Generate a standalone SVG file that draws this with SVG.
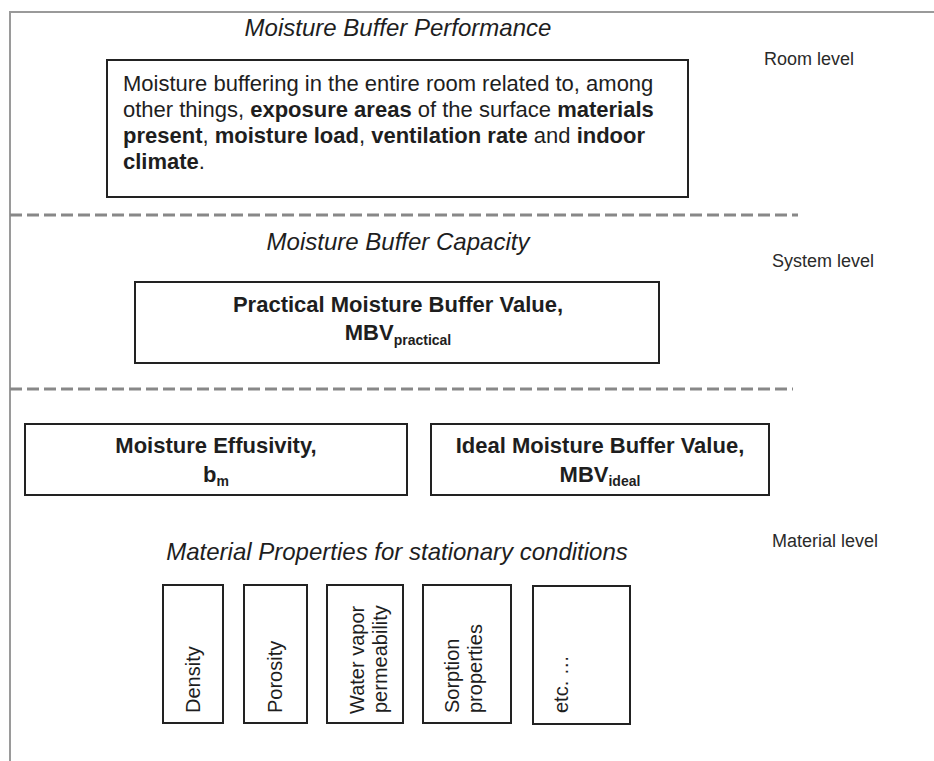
<svg xmlns="http://www.w3.org/2000/svg" width="934" height="761" viewBox="0 0 934 761">
<style>
text { font-family: "Liberation Sans", Arial, sans-serif; fill: #1e1e1e; }
.title { font-size: 24px; font-style: italic; text-anchor: middle; }
.level { font-size: 18px; fill: #2a2a2a; }
.body { font-size: 22px; }
.b { font-weight: bold; }
.node { font-size: 22px; font-weight: bold; text-anchor: middle; }
.sub { font-size: 14px; }
.prop { font-size: 20px; }
.box { fill: #ffffff; stroke: #222222; stroke-width: 2; }
.frame { stroke: #9a9a9a; stroke-width: 2; fill: none; }
.dash { stroke: #888888; stroke-width: 3; stroke-dasharray: 12 5; fill: none; }
</style>
<rect x="0" y="0" width="934" height="761" fill="#ffffff"/>
<g id="frame">
  <path class="frame" d="M10,761 V12 H934"/>
</g>
<g id="separators">
  <line class="dash" x1="10" y1="215" x2="798" y2="215"/>
  <line class="dash" x1="10" y1="389" x2="793" y2="389"/>
</g>
<g id="labels">
  <text class="title" x="398" y="36">Moisture Buffer Performance</text>
  <text class="level" x="764" y="65">Room level</text>
  <text class="title" x="398" y="250">Moisture Buffer Capacity</text>
  <text class="level" x="772" y="267">System level</text>
  <text class="level" x="772" y="547">Material level</text>
  <text class="title" x="397" y="560">Material Properties for stationary conditions</text>
</g>
<g id="performance">
  <rect class="box" x="107" y="60" width="581" height="137"/>
  <text class="body" x="123" y="91">Moisture buffering in the entire room related to, among</text>
  <text class="body" x="123" y="117">other things, <tspan class="b">exposure areas</tspan> of the surface <tspan class="b">materials</tspan></text>
  <text class="body" x="123" y="143"><tspan class="b">present</tspan>, <tspan class="b">moisture load</tspan>, <tspan class="b">ventilation rate</tspan> and <tspan class="b">indoor</tspan></text>
  <text class="body" x="123" y="169"><tspan class="b">climate</tspan>.</text>
</g>
<g id="mbv-practical">
  <rect class="box" x="135" y="282" width="524" height="81"/>
  <text class="node" x="398" y="312">Practical Moisture Buffer Value,</text>
  <text class="node" x="398" y="340">MBV<tspan class="sub" dy="5">practical</tspan></text>
</g>
<g id="effusivity">
  <rect class="box" x="25" y="424" width="382" height="71"/>
  <text class="node" x="216" y="453">Moisture Effusivity,</text>
  <text class="node" x="216" y="482">b<tspan class="sub" dy="4">m</tspan></text>
</g>
<g id="mbv-ideal">
  <rect class="box" x="431" y="424" width="338" height="71"/>
  <text class="node" x="600" y="453">Ideal Moisture Buffer Value,</text>
  <text class="node" x="600" y="482">MBV<tspan class="sub" dy="4">ideal</tspan></text>
</g>
<g id="density">
  <rect class="box" x="163" y="585" width="60" height="138"/>
  <text class="prop" transform="translate(200,713) rotate(-90)">Density</text>
</g>
<g id="porosity">
  <rect class="box" x="244" y="585" width="63" height="138"/>
  <text class="prop" transform="translate(282,713) rotate(-90)">Porosity</text>
</g>
<g id="permeability">
  <rect class="box" x="327" y="585" width="76" height="138"/>
  <text class="prop" transform="translate(364,714) rotate(-90)">Water vapor</text>
  <text class="prop" transform="translate(387,713) rotate(-90)">permeability</text>
</g>
<g id="sorption">
  <rect class="box" x="423" y="585" width="88" height="138"/>
  <text class="prop" transform="translate(459,713) rotate(-90)">Sorption</text>
  <text class="prop" transform="translate(482,713) rotate(-90)">properties</text>
</g>
<g id="etc">
  <rect class="box" x="533" y="586" width="97" height="138"/>
  <text class="prop" transform="translate(568,713) rotate(-90)">etc. …</text>
</g>
<g id="connectors"></g>
</svg>
